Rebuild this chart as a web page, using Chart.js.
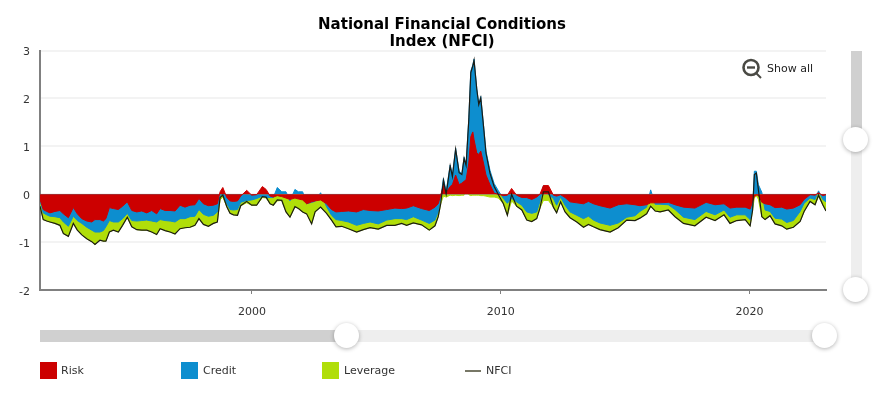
<!DOCTYPE html>
<html>
<head>
<meta charset="utf-8">
<script src="https://cdn.jsdelivr.net/npm/chart.js"></script>
<style>
  html, body { margin: 0; padding: 0; background: #fff; }
  #wrap { position: relative; width: 881px; height: 400px; overflow: hidden; font-family: "DejaVu Sans", sans-serif; font-size: 11px; color: #333; }
  canvas { position: absolute; left: 0; top: 0; }
  .bar { position: absolute; }
  .knob { position: absolute; width: 25px; height: 25px; border-radius: 50%; background: #fff; box-shadow: 0 1px 4px rgba(0,0,0,.3); }
  .swatch { position: absolute; top: 362px; width: 17px; height: 17px; }
  .label { position: absolute; top: 364px; line-height: 14px; }
</style>
</head>
<body>
<div id="wrap">
  <canvas id="chart" width="881" height="400"></canvas>

  <svg style="position:absolute;left:740px;top:57px" width="24" height="24">
    <circle cx="11" cy="10.5" r="7.5" fill="none" stroke="#4a4a44" stroke-width="2.6"/>
    <line x1="7" y1="10.5" x2="15" y2="10.5" stroke="#4a4a44" stroke-width="2.4"/>
    <line x1="16" y1="16" x2="21" y2="21" stroke="#4a4a44" stroke-width="2"/>
  </svg>
  <div class="label" style="left:767px;top:62px;color:#222">Show all</div>

  <div class="bar" style="left:851px;top:51px;width:11px;height:89px;background:#d0d0d0"></div>
  <div class="bar" style="left:851px;top:140px;width:11px;height:150px;background:#eee"></div>
  <div class="knob" style="left:843px;top:127px"></div>
  <div class="knob" style="left:843px;top:277px"></div>

  <div class="bar" style="left:40px;top:330px;width:307px;height:12px;background:#d0d0d0"></div>
  <div class="bar" style="left:347px;top:330px;width:478px;height:12px;background:#eee"></div>
  <div class="knob" style="left:334px;top:323px"></div>
  <div class="knob" style="left:812px;top:323px"></div>

  <div class="swatch" style="left:40px;background:#cc0000"></div>
  <div class="label" style="left:61px">Risk</div>
  <div class="swatch" style="left:181px;background:#0d8ecf"></div>
  <div class="label" style="left:203px">Credit</div>
  <div class="swatch" style="left:322px;background:#b0de09"></div>
  <div class="label" style="left:344px">Leverage</div>
  <div class="bar" style="left:465px;top:370px;width:16px;height:2px;background:#777766"></div>
  <div class="label" style="left:486px">NFCI</div>
</div>

<script>
const dates = [1991.48,1991.61,1991.75,1991.88,1992.08,1992.28,1992.42,1992.62,1992.82,1992.98,1993.16,1993.36,1993.56,1993.69,1993.89,1994.03,1994.13,1994.27,1994.43,1994.63,1994.80,1994.99,1995.17,1995.37,1995.57,1995.77,1995.97,1996.17,1996.31,1996.51,1996.71,1996.91,1997.11,1997.31,1997.51,1997.71,1997.87,1998.05,1998.25,1998.45,1998.61,1998.72,1998.83,1998.99,1999.12,1999.26,1999.42,1999.55,1999.79,1999.99,2000.19,2000.42,2000.57,2000.73,2000.86,2001.02,2001.2,2001.37,2001.53,2001.73,2001.87,2002.04,2002.2,2002.4,2002.54,2002.76,2003.0,2003.2,2003.38,2003.61,2003.88,2004.21,2004.48,2004.75,2005.08,2005.42,2005.75,2006.02,2006.22,2006.49,2006.82,2007.13,2007.36,2007.49,2007.59,2007.7,2007.81,2007.97,2008.06,2008.19,2008.33,2008.44,2008.53,2008.61,2008.72,2008.8,2008.88,2008.93,2009.04,2009.12,2009.2,2009.31,2009.41,2009.57,2009.74,2009.91,2010.11,2010.27,2010.44,2010.64,2010.85,2011.05,2011.25,2011.45,2011.58,2011.72,2011.92,2012.12,2012.25,2012.41,2012.59,2012.79,2013.06,2013.33,2013.53,2013.73,2013.99,2014.4,2014.73,2015.07,2015.4,2015.6,2015.87,2016.03,2016.21,2016.41,2016.74,2017.01,2017.35,2017.81,2018.26,2018.62,2018.98,2019.22,2019.49,2019.83,2020.03,2020.13,2020.2,2020.28,2020.36,2020.5,2020.63,2020.83,2021.03,2021.3,2021.5,2021.77,2022.04,2022.2,2022.44,2022.64,2022.78,2022.95,2023.08];

const risk = [-.11,-.32,-.36,-.39,-.36,-.34,-.41,-.49,-.28,-.41,-.51,-.56,-.58,-.53,-.53,-.56,-.51,-.28,-.30,-.32,-.25,-.16,-.34,-.37,-.35,-.39,-.34,-.41,-.30,-.34,-.34,-.35,-.23,-.27,-.23,-.22,-.09,-.20,-.24,-.23,-.20,.05,.14,-.07,-.14,-.15,-.14,-.04,.08,-.02,-.01,.16,.10,-.04,-.06,-.03,-.05,-.08,-.11,-.08,-.10,-.12,-.20,-.16,-.14,-.12,-.20,-.32,-.37,-.36,-.35,-.37,-.32,-.34,-.35,-.32,-.29,-.30,-.29,-.24,-.30,-.34,-.27,-.20,-.02,.18,.03,.16,.20,.40,.20,.23,.27,.30,.65,1.20,1.30,1.14,.86,.83,.90,.65,.40,.20,.02,0,-.03,-.02,.12,-.02,-.07,-.07,-.11,-.06,0,.18,.18,-.02,-.04,-.01,-.07,-.16,-.18,-.20,-.15,-.20,-.24,-.29,-.22,-.20,-.22,-.24,-.22,-.18,-.18,-.18,-.17,-.22,-.27,-.29,-.17,-.22,-.20,-.29,-.27,-.27,-.31,-.15,-.05,-.02,-.02,-.17,-.20,-.22,-.28,-.27,-.31,-.29,-.22,-.11,-.01,-.02,.03,-.03,-.01];

const credit = [-.03,-.07,-.07,-.07,-.11,-.15,-.17,-.18,-.18,-.14,-.10,-.13,-.17,-.26,-.26,-.20,-.17,-.27,-.28,-.26,-.26,-.24,-.21,-.19,-.20,-.15,-.22,-.17,-.23,-.21,-.22,-.23,-.28,-.24,-.24,-.24,-.23,-.22,-.22,-.21,-.17,-.02,-.01,-.13,-.18,-.18,-.18,-.13,-.13,-.10,-.08,-.04,-.07,-.03,-.01,.14,.05,.05,-.03,.10,.05,.05,0,-.01,-.01,.03,-.06,-.12,-.16,-.19,-.23,-.28,-.29,-.24,-.27,-.22,-.22,-.21,-.24,-.23,-.24,-.27,-.27,-.17,-.06,.15,.03,.45,.20,.56,.28,.20,.50,.32,.95,1.37,1.40,1.68,1.35,1.04,1.14,.80,.50,.30,.20,.07,-.06,-.17,-.09,-.14,-.16,-.30,-.29,-.31,-.15,0,-.01,-.07,-.19,-.05,-.16,-.21,-.26,-.31,-.31,-.34,-.36,-.36,-.38,-.28,-.23,-.12,-.05,.09,-.03,-.03,-.05,-.10,-.21,-.24,-.19,-.21,-.13,-.19,-.16,-.16,-.22,-.14,.48,.48,.20,.04,-.13,-.14,-.22,-.25,-.28,-.26,-.14,-.08,-.07,-.09,.04,-.08,-.15];

const leverage = [-.11,-.14,-.13,-.12,-.14,-.16,-.24,-.21,-.15,-.20,-.24,-.24,-.24,-.26,-.17,-.22,-.30,-.24,-.17,-.21,-.14,-.08,-.13,-.18,-.20,-.21,-.23,-.26,-.19,-.21,-.23,-.25,-.21,-.19,-.22,-.19,-.19,-.21,-.21,-.17,-.21,-.10,-.05,-.06,-.08,-.10,-.12,-.07,-.05,-.11,-.14,-.03,-.01,-.13,-.16,-.11,-.08,-.29,-.34,-.18,-.20,-.25,-.21,-.45,-.22,-.15,-.14,-.10,-.15,-.12,-.14,-.14,-.13,-.12,-.11,-.11,-.14,-.10,-.12,-.13,-.10,-.14,-.12,-.10,-.12,-.04,-.06,-.02,-.03,-.02,-.03,-.02,-.02,0,-.01,-.03,-.02,-.02,-.02,-.02,-.03,-.03,-.04,-.06,-.06,-.08,-.11,-.25,-.05,-.09,-.10,-.17,-.17,-.14,-.14,-.13,-.12,-.18,-.16,-.10,-.14,-.12,-.14,-.18,-.17,-.14,-.14,-.14,-.10,-.06,-.10,-.14,-.14,-.08,-.14,-.16,-.11,-.15,-.13,-.13,-.12,-.12,-.10,-.13,-.12,-.10,-.13,-.04,-.02,-.02,-.08,-.30,-.20,-.09,-.12,-.14,-.14,-.14,-.21,-.17,-.07,-.11,-.05,-.11,-.19];

const nfci = [-.25,-.53,-.56,-.58,-.61,-.65,-.82,-.88,-.61,-.75,-.85,-.93,-.99,-1.05,-.96,-.98,-.98,-.79,-.75,-.79,-.65,-.48,-.68,-.74,-.75,-.75,-.79,-.84,-.72,-.76,-.79,-.83,-.72,-.70,-.69,-.65,-.51,-.63,-.67,-.61,-.58,-.07,-.02,-.26,-.40,-.43,-.44,-.24,-.15,-.23,-.23,-.05,-.06,-.20,-.23,-.12,-.13,-.37,-.48,-.26,-.30,-.37,-.41,-.62,-.37,-.27,-.40,-.54,-.68,-.67,-.72,-.79,-.74,-.70,-.73,-.65,-.65,-.61,-.65,-.60,-.64,-.75,-.66,-.47,-.20,.29,0,.59,.37,.94,.45,.41,.75,.60,1.56,2.54,2.68,2.80,2.19,1.87,2.01,1.42,.86,.44,.16,-.01,-.20,-.44,0,-.25,-.33,-.54,-.57,-.51,-.29,.05,.05,-.27,-.39,-.16,-.37,-.49,-.58,-.69,-.63,-.68,-.74,-.79,-.70,-.54,-.55,-.50,-.41,-.25,-.35,-.37,-.33,-.47,-.61,-.66,-.48,-.55,-.43,-.61,-.55,-.53,-.66,-.33,.41,.44,.10,-.47,-.53,-.45,-.62,-.66,-.73,-.69,-.57,-.36,-.15,-.22,-.02,-.22,-.35];

const yearTicks = [2000, 2010, 2020];
const titleLines = ['National Financial Conditions', 'Index (NFCI)'];

function area(label, values, color, order) {
  return { label, data: values, order, backgroundColor: color, borderColor: color, borderWidth: 1, fill: 'origin', pointRadius: 0, tension: 0 };
}

// title sits over the whole page in the original, not over the shrunken plot
const shiftTitle = {
  id: 'shiftTitle',
  afterLayout(chart) {
    chart.titleBlock.left += 29;
    chart.titleBlock.right += 29;
  }
};

new Chart(document.getElementById('chart'), {
  type: 'line',
  plugins: [shiftTitle],
  data: {
    labels: dates,
    datasets: [
      { label: 'NFCI', data: nfci, order: 0, stack: 'nfci', borderColor: '#1c1c14', borderWidth: 1.2, fill: false, pointRadius: 0, tension: 0 },
      area('Risk', risk, '#cc0000', 1),
      area('Credit', credit, '#0d8ecf', 2),
      area('Leverage', leverage, '#b0de09', 3)
    ]
  },
  options: {
    responsive: false,
    animation: false,
    layout: { padding: { left: 0, right: 55, top: 0, bottom: 80 } },
    plugins: {
      legend: { display: false },
      tooltip: { enabled: false },
      title: {
        display: true,
        text: titleLines,
        color: '#000',
        font: { family: 'DejaVu Sans', size: 15, weight: 'bold', lineHeight: 1.15 },
        padding: { top: 16, bottom: 0 }
      }
    },
    scales: {
      x: {
        type: 'linear',
        min: 1991.48,
        max: 2023.08,
        afterBuildTicks: s => { s.ticks = yearTicks.map(v => ({ value: v })); },
        ticks: { maxRotation: 0, padding: 12, color: '#333', font: { family: 'DejaVu Sans', size: 11 }, callback: v => String(v) },
        border: { color: '#808080', width: 2 },
        grid: { drawOnChartArea: false, color: '#808080', tickLength: 4, lineWidth: 1 },
        afterFit: s => { s.height = 30; }
      },
      y: {
        stacked: true,
        min: -2,
        max: 3,
        ticks: { stepSize: 1, padding: 10, labelOffset: 2, color: '#333', font: { family: 'DejaVu Sans', size: 11 } },
        border: { color: '#808080', width: 2 },
        grid: { color: '#f3f3f3', lineWidth: 2, tickLength: 0 },
        afterFit: s => { s.width = 40; }
      }
    }
  }
});
</script>
</body>
</html>
